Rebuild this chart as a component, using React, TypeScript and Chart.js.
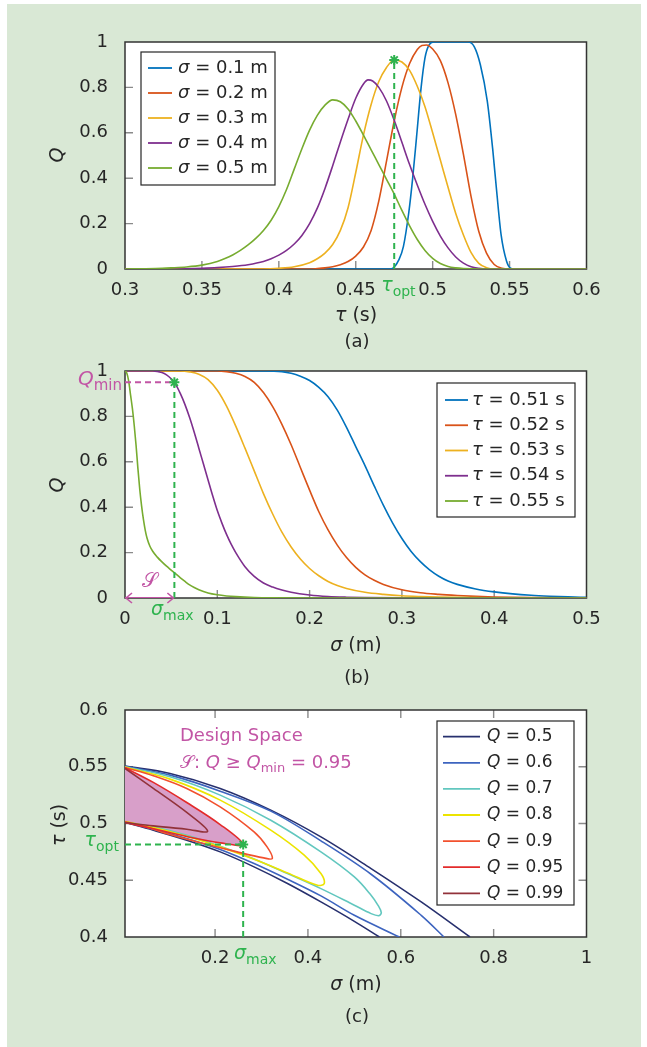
import { useEffect, useRef } from "react";
import { Chart, registerables } from "chart.js";

Chart.register(...registerables);

type Pt = [number, number];

const FONT = "'DejaVu Sans', 'Liberation Sans', sans-serif";
const TEXT_COLOR = "#262626";
const ANN_GREEN = "#2eb34e";
const ANN_MAGENTA = "#c255a5";
const FILL_MAGENTA = "#d89fc9";
const PANEL_GREEN = "#d9e8d5";

// ---------------- (a) Q versus tau for several sigma ----------------
const tauTicksA = [0.3, 0.35, 0.4, 0.45, 0.5, 0.55, 0.6];
const qTicks = [0, 0.2, 0.4, 0.6, 0.8, 1];
const sigmaLegendA = ["0.1", "0.2", "0.3", "0.4", "0.5"];
const colorsAB = ["#0072BD", "#D95319", "#EDB120", "#7E2F8E", "#77AC30"];

const qVsTau_sigma01: Pt[] = [[0.3,0],[0.472,0],[0.4745,0.005],[0.478,0.04],[0.481,0.1],[0.4845,0.25],[0.487,0.4],[0.4895,0.58],[0.4925,0.8],[0.495,0.93],[0.4975,0.985],[0.501,1],[0.523,1],[0.527,0.98],[0.531,0.9],[0.5355,0.74],[0.539,0.53],[0.5415,0.35],[0.5445,0.15],[0.548,0.035],[0.5505,0.004],[0.553,0],[0.6,0]];
const qVsTau_sigma02: Pt[] = [[0.3,0],[0.42,0],[0.425,0.002],[0.43,0.005],[0.435,0.01],[0.44,0.019],[0.445,0.033],[0.45,0.057],[0.455,0.097],[0.46,0.17],[0.465,0.3],[0.47,0.475],[0.475,0.652],[0.48,0.8],[0.485,0.905],[0.49,0.967],[0.493,0.985],[0.496,0.987],[0.5,0.969],[0.505,0.918],[0.51,0.82],[0.515,0.68],[0.52,0.505],[0.525,0.318],[0.53,0.165],[0.535,0.07],[0.54,0.02],[0.545,0.003],[0.55,0],[0.6,0]];
const qVsTau_sigma03: Pt[] = [[0.3,0],[0.39,0],[0.4,0.003],[0.41,0.01],[0.42,0.028],[0.425,0.045],[0.43,0.07],[0.435,0.108],[0.44,0.17],[0.445,0.27],[0.45,0.425],[0.455,0.59],[0.46,0.725],[0.465,0.826],[0.47,0.888],[0.475,0.921],[0.48,0.912],[0.485,0.875],[0.49,0.805],[0.495,0.715],[0.5,0.6],[0.505,0.48],[0.51,0.36],[0.515,0.245],[0.52,0.15],[0.525,0.072],[0.53,0.025],[0.535,0.006],[0.54,0],[0.6,0]];
const qVsTau_sigma04: Pt[] = [[0.3,0],[0.33,0],[0.34,0.001],[0.35,0.003],[0.36,0.006],[0.37,0.011],[0.38,0.019],[0.39,0.033],[0.395,0.045],[0.4,0.061],[0.405,0.082],[0.41,0.11],[0.415,0.148],[0.42,0.2],[0.425,0.268],[0.43,0.355],[0.435,0.455],[0.44,0.56],[0.445,0.66],[0.45,0.752],[0.455,0.815],[0.458,0.833],[0.461,0.828],[0.465,0.8],[0.47,0.74],[0.475,0.655],[0.48,0.558],[0.485,0.46],[0.49,0.37],[0.495,0.285],[0.5,0.21],[0.505,0.145],[0.51,0.093],[0.515,0.053],[0.52,0.026],[0.525,0.01],[0.53,0.003],[0.535,0],[0.6,0]];
const qVsTau_sigma05: Pt[] = [[0.3,0],[0.31,0.001],[0.32,0.002],[0.33,0.005],[0.34,0.009],[0.35,0.017],[0.36,0.033],[0.365,0.046],[0.37,0.062],[0.375,0.082],[0.38,0.106],[0.385,0.135],[0.39,0.17],[0.395,0.215],[0.4,0.275],[0.405,0.35],[0.41,0.44],[0.415,0.53],[0.42,0.612],[0.425,0.677],[0.43,0.722],[0.435,0.745],[0.44,0.737],[0.445,0.705],[0.45,0.652],[0.455,0.59],[0.46,0.525],[0.465,0.46],[0.47,0.395],[0.475,0.33],[0.48,0.258],[0.485,0.19],[0.49,0.13],[0.495,0.082],[0.5,0.047],[0.505,0.024],[0.51,0.011],[0.515,0.005],[0.52,0.002],[0.53,0],[0.6,0]];
const tauOptA = 0.475;
const qAtTauOptA = 0.921;

// ---------------- (b) Q versus sigma for several tau ----------------
const sigmaTicksB = [0, 0.1, 0.2, 0.3, 0.4, 0.5];
const tauLegendB = ["0.51", "0.52", "0.53", "0.54", "0.55"];
const qVsSigma_tau051: Pt[] = [[0,1],[0.15,1],[0.17,0.997],[0.18,0.99],[0.19,0.977],[0.2,0.958],[0.21,0.928],[0.22,0.887],[0.23,0.828],[0.24,0.752],[0.25,0.667],[0.26,0.583],[0.27,0.494],[0.28,0.408],[0.29,0.33],[0.3,0.262],[0.31,0.205],[0.32,0.16],[0.33,0.124],[0.34,0.096],[0.35,0.075],[0.36,0.06],[0.38,0.04],[0.4,0.027],[0.42,0.018],[0.44,0.012],[0.46,0.008],[0.48,0.005],[0.5,0.003]];
const qVsSigma_tau052: Pt[] = [[0,1],[0.1,1],[0.11,0.997],[0.12,0.99],[0.13,0.976],[0.14,0.95],[0.15,0.905],[0.16,0.843],[0.17,0.765],[0.18,0.675],[0.19,0.575],[0.2,0.475],[0.21,0.38],[0.22,0.3],[0.23,0.233],[0.24,0.178],[0.25,0.135],[0.26,0.102],[0.27,0.078],[0.28,0.06],[0.3,0.036],[0.32,0.023],[0.34,0.016],[0.36,0.011],[0.38,0.007],[0.4,0.0045],[0.44,0.002],[0.5,0.001]];
const qVsSigma_tau053: Pt[] = [[0,1],[0.06,1],[0.07,0.996],[0.08,0.986],[0.09,0.962],[0.1,0.915],[0.11,0.845],[0.12,0.757],[0.13,0.66],[0.14,0.56],[0.15,0.46],[0.16,0.37],[0.17,0.29],[0.18,0.225],[0.19,0.172],[0.2,0.13],[0.21,0.098],[0.22,0.073],[0.23,0.055],[0.24,0.042],[0.26,0.025],[0.28,0.016],[0.3,0.01],[0.32,0.0065],[0.34,0.004],[0.38,0.0015],[0.42,0],[0.5,0]];
const qVsSigma_tau054: Pt[] = [[0,1],[0.03,1],[0.04,0.993],[0.045,0.983],[0.05,0.966],[0.055,0.94],[0.06,0.9],[0.065,0.852],[0.07,0.795],[0.075,0.73],[0.08,0.66],[0.085,0.59],[0.09,0.52],[0.095,0.45],[0.1,0.385],[0.105,0.33],[0.11,0.28],[0.115,0.237],[0.12,0.2],[0.13,0.138],[0.14,0.095],[0.15,0.066],[0.16,0.048],[0.17,0.035],[0.18,0.025],[0.2,0.013],[0.22,0.0065],[0.24,0.0035],[0.26,0.002],[0.3,0.0005],[0.35,0],[0.5,0]];
const qVsSigma_tau055: Pt[] = [[0,1],[0.002,0.99],[0.004,0.955],[0.006,0.895],[0.008,0.835],[0.01,0.76],[0.012,0.672],[0.014,0.57],[0.016,0.478],[0.018,0.405],[0.02,0.345],[0.022,0.297],[0.024,0.262],[0.027,0.228],[0.03,0.206],[0.035,0.18],[0.04,0.159],[0.045,0.14],[0.05,0.123],[0.055,0.106],[0.06,0.089],[0.065,0.073],[0.07,0.058],[0.075,0.046],[0.08,0.036],[0.09,0.022],[0.1,0.014],[0.11,0.009],[0.12,0.006],[0.14,0.0025],[0.16,0.001],[0.2,0],[0.5,0]];
const qMinB = 0.95;
const sigmaMaxB = 0.0535;

// ---------------- (c) contours of Q over (sigma, tau) ----------------
const sigmaTicksC = [0.2, 0.4, 0.6, 0.8, 1];
const tauTicksC = [0.4, 0.45, 0.5, 0.55, 0.6];
const qLevelsC = ["0.5", "0.6", "0.7", "0.8", "0.9", "0.95", "0.99"];
const contourColorsC = ["#27306e", "#3d64bf", "#62c7bf", "#ece400", "#f2512e", "#e32b2b", "#92323a"];
const contour050_upper: Pt[] = [[0.006,0.5506],[0.103,0.5441],[0.211,0.5309],[0.32,0.5118],[0.428,0.4882],[0.536,0.4603],[0.644,0.4309],[0.749,0.4]];
const contour050_lower: Pt[] = [[0.006,0.5009],[0.067,0.4941],[0.139,0.4853],[0.211,0.475],[0.284,0.4618],[0.356,0.4471],[0.428,0.4309],[0.5,0.4138],[0.554,0.4]];
const contour060_upper: Pt[] = [[0.006,0.5503],[0.103,0.5426],[0.211,0.5285],[0.32,0.5109],[0.428,0.4847],[0.536,0.4553],[0.644,0.4191],[0.693,0.4]];
const contour060_lower: Pt[] = [[0.006,0.5012],[0.067,0.495],[0.139,0.4868],[0.211,0.4771],[0.284,0.4647],[0.356,0.4509],[0.428,0.4362],[0.5,0.4191],[0.597,0.4]];
const contour070: Pt[] = [[0.006,0.55],[0.103,0.5412],[0.211,0.525],[0.32,0.5029],[0.428,0.475],[0.5,0.4529],[0.536,0.4368],[0.551,0.4279],[0.558,0.4215],[0.553,0.4188],[0.536,0.4206],[0.5,0.428],[0.428,0.4426],[0.356,0.4559],[0.284,0.4688],[0.211,0.48],[0.139,0.4897],[0.067,0.4971],[0.006,0.5015]];
const contour080: Pt[] = [[0.006,0.5497],[0.103,0.5391],[0.211,0.5206],[0.32,0.4941],[0.392,0.4721],[0.428,0.4559],[0.4351,0.4471],[0.4206,0.4456],[0.356,0.4565],[0.284,0.4685],[0.211,0.4794],[0.139,0.4888],[0.067,0.4965],[0.006,0.5018]];
const contour090: Pt[] = [[0.006,0.5494],[0.067,0.5421],[0.139,0.5309],[0.211,0.5147],[0.284,0.4926],[0.312,0.4794],[0.3232,0.4691],[0.305,0.4697],[0.2475,0.475],[0.175,0.4824],[0.103,0.4903],[0.0527,0.4968],[0.006,0.5015]];
const contour095: Pt[] = [[0.006,0.5491],[0.067,0.5362],[0.139,0.5185],[0.211,0.4991],[0.2605,0.4815],[0.211,0.4829],[0.139,0.4885],[0.067,0.4953],[0.006,0.5009]];
const contour099: Pt[] = [[0.006,0.5485],[0.067,0.5309],[0.139,0.5097],[0.184,0.4932],[0.139,0.495],[0.067,0.4979],[0.006,0.5009]];
const tauOptC = 0.4815;
const sigmaMaxC = 0.2605;

// ---------------- helpers ----------------
const toXY = (arr: Pt[]) => arr.map(([x, y]) => ({ x, y }));
const fmt = (v: any) => String(Math.round(Number(v) * 1000) / 1000);

type Seg = { t: string; it?: boolean; sub?: boolean; fam?: string };

function drawRich(ctx: CanvasRenderingContext2D, segs: Seg[], x: number, y: number, size: number, color: string, align: "left" | "center" | "right" = "left") {
  const fontFor = (s: Seg) => `${s.it ? "italic " : ""}${s.sub ? Math.round(size * 0.74) : size}px ${s.fam || FONT}`;
  let total = 0;
  const widths = segs.map((s) => {
    ctx.font = fontFor(s);
    const w = ctx.measureText(s.t).width;
    total += w;
    return w;
  });
  let cx = align === "center" ? x - total / 2 : align === "right" ? x - total : x;
  ctx.save();
  ctx.fillStyle = color;
  ctx.textBaseline = "middle";
  ctx.textAlign = "left";
  segs.forEach((s, i) => {
    ctx.font = fontFor(s);
    ctx.fillText(s.t, cx, y + (s.sub ? size * 0.32 : 0));
    cx += widths[i];
  });
  ctx.restore();
}

function drawLegend(ctx: CanvasRenderingContext2D, box: { x: number; y: number; w: number; h: number }, rows: { color: string; segs: Seg[] }[], y0: number, step: number, lx0: number, lx1: number, tx: number, size: number) {
  ctx.save();
  ctx.fillStyle = "#ffffff";
  ctx.fillRect(box.x, box.y, box.w, box.h);
  ctx.strokeStyle = "#262626";
  ctx.lineWidth = 1.2;
  ctx.strokeRect(box.x, box.y, box.w, box.h);
  rows.forEach((r, i) => {
    const y = y0 + i * step;
    ctx.strokeStyle = r.color;
    ctx.lineWidth = 1.8;
    ctx.beginPath();
    ctx.moveTo(lx0, y);
    ctx.lineTo(lx1, y);
    ctx.stroke();
    drawRich(ctx, r.segs, tx, y, size, TEXT_COLOR, "left");
  });
  ctx.restore();
}

function drawFrame(chart: any, xT: number[], yT: number[], allSides: boolean) {
  const { ctx, chartArea: a, scales } = chart;
  ctx.save();
  ctx.strokeStyle = "#8a8a8a";
  ctx.lineWidth = 1.4;
  const L = 8;
  ctx.beginPath();
  xT.forEach((v) => {
    const p = scales.x.getPixelForValue(v);
    if (p <= a.left + 1 || p >= a.right - 1) return;
    ctx.moveTo(p, a.bottom);
    ctx.lineTo(p, a.bottom - L);
    if (allSides) {
      ctx.moveTo(p, a.top);
      ctx.lineTo(p, a.top + L);
    }
  });
  yT.forEach((v) => {
    const p = scales.y.getPixelForValue(v);
    if (p <= a.top + 1 || p >= a.bottom - 1) return;
    ctx.moveTo(a.left, p);
    ctx.lineTo(a.left + L, p);
    if (allSides) {
      ctx.moveTo(a.right, p);
      ctx.lineTo(a.right - L, p);
    }
  });
  ctx.stroke();
  ctx.strokeStyle = "#333333";
  ctx.lineWidth = 1.5;
  ctx.strokeRect(a.left, a.top, a.right - a.left, a.bottom - a.top);
  ctx.restore();
}

function makePlugin(xT: number[], yT: number[], allSides: boolean, after: (chart: any) => void, fillIndex = -1) {
  return {
    id: "extras",
    beforeDraw(chart: any) {
      const { ctx, chartArea: a } = chart;
      ctx.save();
      ctx.fillStyle = "#ffffff";
      ctx.fillRect(a.left, a.top, a.right - a.left, a.bottom - a.top);
      ctx.restore();
    },
    beforeDatasetsDraw(chart: any) {
      drawFrame(chart, xT, yT, allSides);
      if (fillIndex >= 0) {
        const meta = chart.getDatasetMeta(fillIndex);
        const line = meta && meta.dataset;
        if (line) {
          const { ctx, chartArea: a } = chart;
          ctx.save();
          ctx.beginPath();
          ctx.rect(a.left, a.top, a.right - a.left, a.bottom - a.top);
          ctx.clip();
          if (line.updateControlPoints) line.updateControlPoints(a, "x");
          ctx.beginPath();
          line.path(ctx);
          ctx.closePath();
          ctx.fillStyle = FILL_MAGENTA;
          ctx.fill();
          ctx.restore();
        }
      }
    },
    afterDatasetsDraw(chart: any) {
      after(chart);
    },
  };
}

function scalesFor(xMin: number, xMax: number, xT: number[], yMin: number, yMax: number, yT: number[]) {
  const tickFont = { family: FONT, size: 18 };
  return {
    x: {
      type: "linear",
      position: "bottom",
      min: xMin,
      max: xMax,
      afterBuildTicks: (s: any) => {
        s.ticks = xT.map((v) => ({ value: v }));
      },
      afterFit: (s: any) => {
        s.height = 60;
      },
      grid: { display: false },
      border: { display: false },
      ticks: { autoSkip: false, maxRotation: 0, minRotation: 0, padding: 3, color: TEXT_COLOR, font: tickFont, callback: (v: any) => fmt(v) },
    },
    y: {
      type: "linear",
      position: "left",
      min: yMin,
      max: yMax,
      afterBuildTicks: (s: any) => {
        s.ticks = yT.map((v) => ({ value: v }));
      },
      afterFit: (s: any) => {
        s.width = 100;
      },
      grid: { display: false },
      border: { display: false },
      ticks: { autoSkip: false, padding: 9, color: TEXT_COLOR, font: tickFont, callback: (v: any) => fmt(v) },
    },
  };
}

const baseOptions = (padTop: number, padBottom: number) => ({
  responsive: false,
  animation: false,
  events: [],
  layout: { padding: { left: 25, right: 60.5, top: padTop, bottom: padBottom } },
  plugins: { legend: { display: false }, tooltip: { enabled: false } },
  elements: { point: { radius: 0 } },
});

function curveDs(arr: Pt[], color: string, order: number) {
  return { data: toXY(arr), borderColor: color, borderWidth: 1.6, showLine: true, pointRadius: 0, cubicInterpolationMode: "monotone", order };
}
function dashedDs(arr: Pt[], color: string) {
  return { data: toXY(arr), borderColor: color, borderWidth: 2, borderDash: [6, 4], showLine: true, pointRadius: 0, order: -1 };
}
function starDs(x: number, y: number) {
  return { data: [{ x, y }], showLine: false, pointStyle: "star", pointRadius: 5, borderColor: ANN_GREEN, backgroundColor: ANN_GREEN, borderWidth: 2, order: -2 };
}

function drawYTitle(ctx: CanvasRenderingContext2D, segs: Seg[], x: number, y: number) {
  ctx.save();
  ctx.translate(x, y);
  ctx.rotate(-Math.PI / 2);
  drawRich(ctx, segs, 0, 0, 19, TEXT_COLOR, "center");
  ctx.restore();
}

// ---------------- configs ----------------
function configA(): any {
  const series = [qVsTau_sigma01, qVsTau_sigma02, qVsTau_sigma03, qVsTau_sigma04, qVsTau_sigma05];
  const datasets: any[] = series.map((s, i) => curveDs(s, colorsAB[i], 5 - i));
  datasets.push(dashedDs([[tauOptA, 0], [tauOptA, qAtTauOptA]], ANN_GREEN));
  datasets.push(starDs(tauOptA, qAtTauOptA));
  const after = (chart: any) => {
    const { ctx, scales } = chart;
    drawLegend(ctx, { x: 141, y: 52, w: 134, h: 133 },
      sigmaLegendA.map((s, i) => ({ color: colorsAB[i], segs: [{ t: "σ", it: true }, { t: " = " + s + " m" }] })),
      68, 25, 148, 172, 178, 18);
    drawRich(ctx, [{ t: "τ", it: true }, { t: "opt", sub: true }], scales.x.getPixelForValue(tauOptA) - 13, 286, 19, ANN_GREEN, "left");
    drawRich(ctx, [{ t: "τ", it: true }, { t: " (s)" }], 356, 316, 19, TEXT_COLOR, "center");
    drawYTitle(ctx, [{ t: "Q", it: true }], 58, 155);
    drawRich(ctx, [{ t: "(a)" }], 357, 342, 18, TEXT_COLOR, "center");
  };
  return {
    type: "scatter",
    data: { datasets },
    options: { ...baseOptions(42, 21), scales: scalesFor(0.3, 0.6, tauTicksA, 0, 1, qTicks) },
    plugins: [makePlugin(tauTicksA, qTicks, false, after)],
  };
}

function configB(): any {
  const series = [qVsSigma_tau051, qVsSigma_tau052, qVsSigma_tau053, qVsSigma_tau054, qVsSigma_tau055];
  const datasets: any[] = series.map((s, i) => curveDs(s, colorsAB[i], 5 - i));
  datasets.push(dashedDs([[0, qMinB], [sigmaMaxB, qMinB]], ANN_MAGENTA));
  datasets.push(dashedDs([[sigmaMaxB, 0], [sigmaMaxB, qMinB]], ANN_GREEN));
  datasets.push({ data: toXY([[0, 0], [sigmaMaxB, 0]]), borderColor: ANN_MAGENTA, borderWidth: 1.8, showLine: true, pointRadius: 0, order: -1 });
  datasets.push(starDs(sigmaMaxB, qMinB));
  const after = (chart: any) => {
    const { ctx, scales } = chart;
    const y0 = scales.y.getPixelForValue(0);
    const xa = scales.x.getPixelForValue(0);
    const xb = scales.x.getPixelForValue(sigmaMaxB);
    ctx.save();
    ctx.strokeStyle = ANN_MAGENTA;
    ctx.lineWidth = 1.6;
    ctx.beginPath();
    ctx.moveTo(xa + 7, y0 - 5); ctx.lineTo(xa + 1, y0); ctx.lineTo(xa + 7, y0 + 5);
    ctx.moveTo(xb - 7, y0 - 5); ctx.lineTo(xb - 1, y0); ctx.lineTo(xb - 7, y0 + 5);
    ctx.stroke();
    ctx.restore();
    drawRich(ctx, [{ t: "𝒮" }], (xa + xb) / 2, y0 - 16, 20, ANN_MAGENTA, "center");
    drawRich(ctx, [{ t: "Q", it: true }, { t: "min", sub: true }], 122, 30, 20, ANN_MAGENTA, "right");
    drawRich(ctx, [{ t: "σ", it: true }, { t: "max", sub: true }], 151, 260, 19, ANN_GREEN, "left");
    drawLegend(ctx, { x: 437, y: 33, w: 138, h: 134 },
      tauLegendB.map((s, i) => ({ color: colorsAB[i], segs: [{ t: "τ", it: true }, { t: " = " + s + " s" }] })),
      50, 25.25, 445, 468, 472, 18);
    drawRich(ctx, [{ t: "σ", it: true }, { t: " (m)" }], 356, 296, 19, TEXT_COLOR, "center");
    drawYTitle(ctx, [{ t: "Q", it: true }], 58, 135);
    drawRich(ctx, [{ t: "(b)" }], 357, 328, 18, TEXT_COLOR, "center");
  };
  return {
    type: "scatter",
    data: { datasets },
    options: { ...baseOptions(21, 32), scales: scalesFor(0, 0.5, sigmaTicksB, 0, 1, qTicks) },
    plugins: [makePlugin(sigmaTicksB, qTicks, false, after)],
  };
}

function configC(): any {
  const lineDs = (arr: Pt[], i: number) => ({ data: toXY(arr), borderColor: contourColorsC[i], borderWidth: 1.6, showLine: true, pointRadius: 0, tension: 0.35, order: 10 - i });
  const datasets: any[] = [
    lineDs(contour050_upper, 0), lineDs(contour050_lower, 0),
    lineDs(contour060_upper, 1), lineDs(contour060_lower, 1),
    lineDs(contour070, 2), lineDs(contour080, 3), lineDs(contour090, 4),
    lineDs(contour095, 5), lineDs(contour099, 6),
  ];
  const fillIndex = 7;
  datasets.push(dashedDs([[0.006, tauOptC], [sigmaMaxC, tauOptC]], ANN_GREEN));
  datasets.push(dashedDs([[sigmaMaxC, 0.4], [sigmaMaxC, tauOptC]], ANN_GREEN));
  datasets.push(starDs(sigmaMaxC, tauOptC));
  const after = (chart: any) => {
    const { ctx, scales } = chart;
    drawLegend(ctx, { x: 437, y: 31, w: 137, h: 184 },
      qLevelsC.map((s, i) => ({ color: contourColorsC[i], segs: [{ t: "Q", it: true }, { t: " = " + s }] })),
      46.7, 26.1, 443, 480, 487, 17);
    drawRich(ctx, [{ t: "Design Space" }], 180, 46, 18, ANN_MAGENTA, "left");
    drawRich(ctx, [{ t: "𝒮" }, { t: ": " }, { t: "Q", it: true }, { t: " ≥ " }, { t: "Q", it: true }, { t: "min", sub: true }, { t: " = 0.95" }], 180, 73, 18, ANN_MAGENTA, "left");
    drawRich(ctx, [{ t: "τ", it: true }, { t: "opt", sub: true }], 119, scales.y.getPixelForValue(tauOptC) - 3, 19, ANN_GREEN, "right");
    drawRich(ctx, [{ t: "σ", it: true }, { t: "max", sub: true }], 234, 264, 19, ANN_GREEN, "left");
    drawRich(ctx, [{ t: "σ", it: true }, { t: " (m)" }], 356, 295, 19, TEXT_COLOR, "center");
    drawYTitle(ctx, [{ t: "τ", it: true }, { t: " (s)" }], 60, 135);
    drawRich(ctx, [{ t: "(c)" }], 357, 327, 18, TEXT_COLOR, "center");
  };
  return {
    type: "scatter",
    data: { datasets },
    options: { ...baseOptions(20, 50), scales: scalesFor(0.006, 1, sigmaTicksC, 0.4, 0.6, tauTicksC) },
    plugins: [makePlugin(sigmaTicksC, tauTicksC, true, after, fillIndex)],
  };
}

export default function App() {
  const refA = useRef<HTMLCanvasElement>(null);
  const refB = useRef<HTMLCanvasElement>(null);
  const refC = useRef<HTMLCanvasElement>(null);
  useEffect(() => {
    const charts = [
      new Chart(refA.current as HTMLCanvasElement, configA()),
      new Chart(refB.current as HTMLCanvasElement, configB()),
      new Chart(refC.current as HTMLCanvasElement, configC()),
    ];
    return () => charts.forEach((c) => c.destroy());
  }, []);
  return (
    <div style={{ position: "absolute", left: 0, top: 0, width: 647, height: 1047, background: "#ffffff", overflow: "hidden" }}>
      <div style={{ position: "absolute", left: 7, top: 4, width: 634, height: 1043, background: PANEL_GREEN }} />
      <canvas ref={refA} width={647} height={350} style={{ position: "absolute", left: 0, top: 0, width: 647, height: 350 }} />
      <canvas ref={refB} width={647} height={340} style={{ position: "absolute", left: 0, top: 350, width: 647, height: 340 }} />
      <canvas ref={refC} width={647} height={357} style={{ position: "absolute", left: 0, top: 690, width: 647, height: 357 }} />
    </div>
  );
}
